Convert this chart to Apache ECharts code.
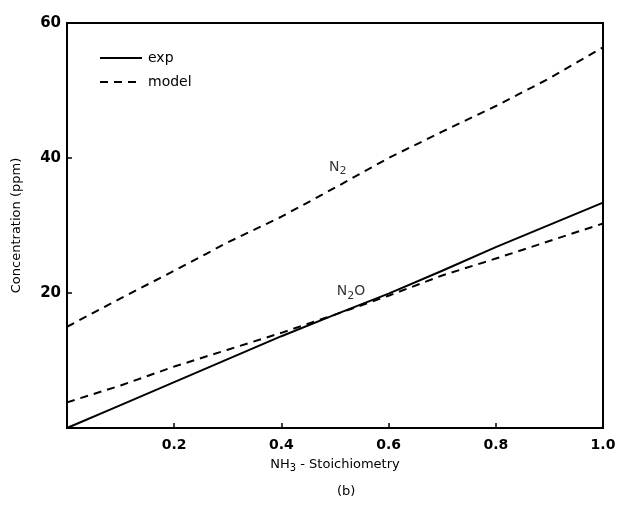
<!DOCTYPE html>
<html>
<head>
<meta charset="utf-8">
<script src="https://cdn.jsdelivr.net/npm/echarts@6/dist/echarts.min.js"></script>
<style>html,body{margin:0;padding:0;background:#fff}#c{width:620px;height:505px}</style>
</head>
<body>
<div id="c"></div>
<script>
// ---- data ----
var stoich = [0, 0.1, 0.2, 0.3, 0.4, 0.5, 0.6, 0.7, 0.8, 0.9, 1.0];
var n2Model = [15.0, 19.2, 23.3, 27.5, 31.3, 35.6, 40.0, 43.9, 47.7, 51.8, 56.4];
var n2oExp = [0, 3.4, 6.8, 10.2, 13.6, 16.8, 19.9, 23.3, 26.8, 30.1, 33.4];
var n2oModel = [3.8, 6.3, 9.1, 11.6, 14.1, 16.8, 19.6, 22.6, 25.1, 27.7, 30.3];
var xTickLabels = ['', '0.2', '0.4', '0.6', '0.8', '1.0'];
var yTickLabels = ['', '20', '40', '60'];
var annotationText = ['N{s|2}', 'N{s|2}O'];
var annotationX = [0.505, 0.53];
var annotationY = [38.6, 20.2];

function pairs(xs, ys) { return xs.map(function (x, i) { return [x, ys[i]]; }); }

var FONT = 'DejaVu Sans';
var chart = echarts.init(document.getElementById('c'));
chart.setOption({
  animation: false,
  backgroundColor: '#fff',
  textStyle: { fontFamily: FONT, color: '#000' },
  grid: { left: 67, right: 17, top: 23, bottom: 77, show: true, borderColor: '#000', borderWidth: 2, backgroundColor: 'transparent' },
  legend: {
    data: ['exp', 'model'],
    orient: 'vertical',
    left: 94, top: 46,
    itemWidth: 42, itemHeight: 12, itemGap: 10,
    itemStyle: { opacity: 0 },
    textStyle: { fontFamily: FONT, fontSize: 14, color: '#000', padding: [0, 0, 0, 1] }
  },
  title: {
    text: '(b)', left: 332, top: 480,
    textStyle: { fontFamily: FONT, fontSize: 13, fontWeight: 'normal', color: '#000' }
  },
  xAxis: {
    type: 'value', min: 0, max: 1, interval: 0.2,
    name: 'NH{s|3} - Stoichiometry', nameLocation: 'middle', nameGap: 29,
    nameTextStyle: { fontFamily: FONT, fontSize: 13, color: '#000', rich: { s: { fontSize: 10, padding: [6, 0, 0, 0], fontFamily: FONT, color: '#000' } } },
    axisLine: { show: true, lineStyle: { color: '#000', width: 2 } },
    axisTick: { show: true, inside: true, length: 5, lineStyle: { color: '#000', width: 1.5 } },
    axisLabel: { fontFamily: FONT, fontSize: 14, fontWeight: 'bold', color: '#000', margin: 10,
      formatter: function (v) { return xTickLabels[Math.round(v / 0.2)]; } },
    splitLine: { show: false }
  },
  yAxis: {
    type: 'value', min: 0, max: 60, interval: 20,
    name: 'Concentration (ppm)', nameLocation: 'middle', nameGap: 44,
    nameTextStyle: { fontFamily: FONT, fontSize: 13, color: '#000' },
    axisLine: { show: true, lineStyle: { color: '#000', width: 2 } },
    axisTick: { show: true, inside: true, length: 5, lineStyle: { color: '#000', width: 1.5 } },
    axisLabel: { fontFamily: FONT, fontSize: 15, fontWeight: 'bold', color: '#000', margin: 6,
      formatter: function (v) { return yTickLabels[Math.round(v / 20)]; } },
    splitLine: { show: false }
  },
  series: [
    { name: 'exp', type: 'line', data: pairs(stoich, n2oExp), symbol: 'none',
      lineStyle: { color: '#000', width: 2, type: 'solid' }, itemStyle: { color: '#000' } },
    { name: 'model', type: 'line', data: pairs(stoich, n2oModel), symbol: 'none',
      lineStyle: { color: '#000', width: 2, type: [8, 6] }, itemStyle: { color: '#000' } },
    { name: 'model', type: 'line', data: pairs(stoich, n2Model), symbol: 'none',
      lineStyle: { color: '#000', width: 2, type: [8, 6] }, itemStyle: { color: '#000' } },
    { name: 'labels', type: 'scatter', symbolSize: 0, silent: true,
      data: annotationX.map(function (x, i) { return { value: [x, annotationY[i]], name: annotationText[i] }; }),
      label: { show: true, position: 'inside', color: '#000', fontFamily: FONT, fontSize: 14,
        formatter: function (p) { return p.name; },
        rich: { s: { fontSize: 11, padding: [8, 0, 0, 0], fontFamily: FONT, color: '#000' } } } }
  ]
});
</script>
</body>
</html>
